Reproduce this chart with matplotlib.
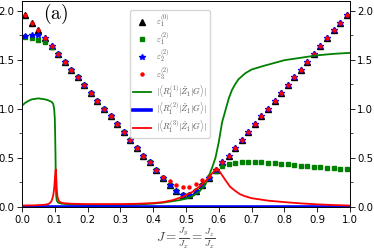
import matplotlib
matplotlib.use("Agg")
import matplotlib.pyplot as plt
from matplotlib.ticker import AutoMinorLocator, MultipleLocator

plt.rcParams['mathtext.fontset'] = 'cm'

# marker J grid
J_pts = [0.01, 0.03, 0.05, 0.07, 0.09, 0.11, 0.13, 0.15, 0.17, 0.19,
         0.21, 0.23, 0.25, 0.27, 0.29, 0.31, 0.33, 0.35, 0.37, 0.39,
         0.41, 0.43, 0.45, 0.47, 0.49, 0.51, 0.53, 0.55, 0.57, 0.59,
         0.61, 0.63, 0.65, 0.67, 0.69, 0.71, 0.73, 0.75, 0.77, 0.79,
         0.81, 0.83, 0.85, 0.87, 0.89, 0.91, 0.93, 0.95, 0.97, 0.99]

eps1_0 = [1.96, 1.88, 1.80, 1.72, 1.64, 1.56, 1.48, 1.40, 1.32, 1.24,
          1.16, 1.08, 1.00, 0.92, 0.84, 0.76, 0.68, 0.60, 0.52, 0.45,
          0.37, 0.29, 0.22, 0.16, 0.12, 0.12, 0.16, 0.22, 0.29, 0.37,
          0.45, 0.52, 0.60, 0.68, 0.76, 0.84, 0.92, 1.00, 1.08, 1.16,
          1.24, 1.32, 1.40, 1.48, 1.56, 1.64, 1.72, 1.80, 1.88, 1.96]

eps1_2 = [1.73, 1.72, 1.70, 1.68, 1.63, 1.56, 1.48, 1.40, 1.32, 1.24,
          1.16, 1.08, 1.00, 0.92, 0.84, 0.76, 0.68, 0.60, 0.52, 0.45,
          0.37, 0.29, 0.22, 0.16, 0.12, 0.12, 0.16, 0.22, 0.29, 0.36,
          0.41, 0.43, 0.44, 0.45, 0.45, 0.45, 0.45, 0.44, 0.44, 0.435,
          0.43, 0.42, 0.415, 0.41, 0.40, 0.40, 0.39, 0.39, 0.385, 0.38]

eps2_2 = [1.745, 1.75, 1.755, 1.72, 1.64, 1.56, 1.48, 1.40, 1.32, 1.24,
          1.16, 1.08, 1.00, 0.92, 0.84, 0.76, 0.68, 0.60, 0.52, 0.45,
          0.37, 0.29, 0.22, 0.16, 0.12, 0.12, 0.16, 0.22, 0.29, 0.37,
          0.45, 0.52, 0.60, 0.68, 0.76, 0.84, 0.92, 1.00, 1.08, 1.16,
          1.24, 1.32, 1.40, 1.48, 1.56, 1.64, 1.72, 1.80, 1.88, 1.96]

eps3_2 = [1.96, 1.88, 1.80, 1.72, 1.64, 1.56, 1.48, 1.40, 1.32, 1.24,
          1.16, 1.08, 1.00, 0.92, 0.84, 0.76, 0.68, 0.60, 0.52, 0.45,
          0.37, 0.30, 0.26, 0.22, 0.20, 0.20, 0.23, 0.27, 0.31, 0.38,
          0.45, 0.52, 0.60, 0.68, 0.76, 0.84, 0.92, 1.00, 1.08, 1.16,
          1.24, 1.32, 1.40, 1.48, 1.56, 1.64, 1.72, 1.80, 1.88, 1.96]

# line curves
J_R1 = [0.0, 0.01, 0.02, 0.03, 0.04, 0.05, 0.06, 0.07, 0.08, 0.09,
        0.095, 0.098, 0.100, 0.101, 0.102, 0.103, 0.104, 0.106, 0.11, 0.12,
        0.15, 0.2, 0.25, 0.3, 0.35, 0.4, 0.43, 0.46, 0.48, 0.5,
        0.52, 0.54, 0.56, 0.58, 0.59, 0.60, 0.61, 0.62, 0.63, 0.64,
        0.65, 0.66, 0.68, 0.7, 0.74, 0.8, 0.85, 0.9, 0.95, 1.0]
R1 = [1.03, 1.06, 1.08, 1.095, 1.10, 1.105, 1.10, 1.095, 1.085, 1.07,
      1.05, 1.0, 0.9, 0.75, 0.55, 0.3, 0.12, 0.06, 0.04, 0.03,
      0.02, 0.015, 0.015, 0.015, 0.02, 0.03, 0.04, 0.055, 0.065, 0.08,
      0.105, 0.15, 0.23, 0.40, 0.50, 0.66, 0.86, 0.98, 1.10, 1.19,
      1.25, 1.30, 1.36, 1.40, 1.44, 1.495, 1.52, 1.545, 1.56, 1.57]

J_R2 = [0.0, 1.0]
R2 = [0.0, 0.0]

J_R3 = [0.0, 0.04, 0.07, 0.08, 0.085, 0.09, 0.095, 0.098, 0.100, 0.102,
        0.103, 0.104, 0.106, 0.108, 0.112, 0.116, 0.125, 0.15, 0.2, 0.3,
        0.35, 0.4, 0.43, 0.46, 0.49, 0.52, 0.54, 0.56, 0.58, 0.59,
        0.595, 0.60, 0.61, 0.62, 0.635, 0.65, 0.665, 0.68, 0.7, 0.75,
        0.8, 0.85, 0.9, 0.95, 1.0]
R3 = [0.01, 0.012, 0.018, 0.025, 0.035, 0.055, 0.11, 0.18, 0.27, 0.36,
      0.38, 0.33, 0.18, 0.10, 0.06, 0.045, 0.035, 0.028, 0.025, 0.025,
      0.028, 0.035, 0.045, 0.065, 0.10, 0.15, 0.20, 0.26, 0.34, 0.375,
      0.385, 0.37, 0.32, 0.27, 0.20, 0.16, 0.125, 0.105, 0.085, 0.06,
      0.045, 0.032, 0.022, 0.015, 0.01]

fig = plt.figure(figsize=(3.74, 2.5), dpi=100)
ax = fig.add_axes([22/374, 1-207/250, 328/374, 206/250])

ax.plot(J_pts, eps1_0, linestyle='none', marker='^', color='black', ms=4.5,
        label=r'$\varepsilon_1^{(0)}$')
ax.plot(J_pts, eps1_2, linestyle='none', marker='s', color='green', ms=2.8,
        label=r'$\varepsilon_1^{(2)}$')
ax.plot(J_pts, eps2_2, linestyle='none', marker='*', color='blue', ms=4.0,
        label=r'$\varepsilon_2^{(2)}$')
ax.plot(J_pts, eps3_2, linestyle='none', marker='o', color='red', ms=2.2,
        label=r'$\varepsilon_3^{(2)}$')
ax.plot(J_R1, R1, color='green', lw=1.3,
        label=r'$|\langle R_1^{(1)}|\hat{Z}_1|G\rangle|$')
ax.plot(J_R2, R2, color='blue', lw=2.6,
        label=r'$|\langle R_1^{(2)}|\hat{Z}_1|G\rangle|$')
ax.plot(J_R3, R3, color='red', lw=1.3,
        label=r'$|\langle R_1^{(3)}|\hat{Z}_1|G\rangle|$')

ax.set_xlim(0, 1)
ax.set_ylim(-0.005, 2.1)
ax.xaxis.set_major_locator(MultipleLocator(0.1))
ax.yaxis.set_major_locator(MultipleLocator(0.5))
ax.yaxis.set_minor_locator(AutoMinorLocator(2))
ax.tick_params(axis='both', labelsize=7.3, length=3.5, width=0.6, pad=2.5)
ax.tick_params(axis='y', which='both', right=True, labelright=True, pad=1.8)
ax.tick_params(axis='y', which='minor', length=2, width=0.5)
for s in ax.spines.values():
    s.set_linewidth(0.7)

ax.set_xlabel(r'$J=\frac{J_y}{J_x}=\frac{J_z}{J_x}$', fontsize=9.5,
              color='#444444', labelpad=0)
ax.text(0.063, 0.995, r'$\mathrm{(a)}$', transform=ax.transAxes, fontsize=14,
        va='top', ha='left')

leg = ax.legend(loc='upper left', bbox_to_anchor=(0.317, 0.975), fontsize=6.2,
                labelspacing=0.2, handlelength=2.0, borderpad=0.35,
                handletextpad=0.6, framealpha=0.8, edgecolor='#cccccc')
for t in leg.get_texts():
    t.set_color('#555555')

fig.savefig('out.png', dpi=100)
